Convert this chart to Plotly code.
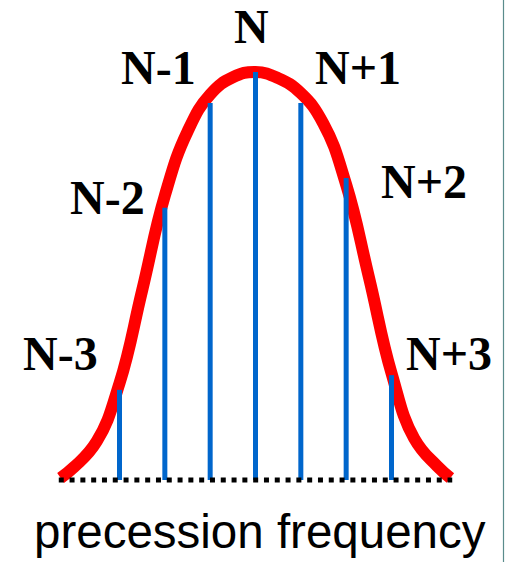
import plotly.graph_objects as go

# ---- data ----
# channel offsets relative to N
channels = [-3, -2, -1, 0, 1, 2, 3]
channel_labels = ["N-3", "N-2", "N-1", "N", "N+1", "N+2", "N+3"]
# relative intensity of each line (peak = 1)
line_heights = [0.221, 0.667, 0.924, 1.0, 0.924, 0.740, 0.257]

# envelope curve (x in channel units, y relative intensity)
curve_x = [-4.3, -4.0, -3.5, -3.0, -2.5, -2.0, -1.5, -1.0, -0.5, 0.0,
           0.5, 1.0, 1.5, 2.0, 2.5, 3.0, 3.5, 4.0, 4.3]
curve_y = [0.005, 0.032, 0.095, 0.237, 0.465, 0.697, 0.854, 0.945, 0.987, 1.0,
           0.985, 0.948, 0.873, 0.724, 0.498, 0.262, 0.102, 0.035, 0.005]

axis_title = "precession frequency"

# ---- layout helpers (pixel geometry of the 505x562 canvas) ----
W, H = 505, 562
label_pos_px = [(60, 353), (107.5, 197), (158, 67), (251, 26.5),
                (358, 67), (424, 182), (449, 353)]
title_pos_px = (260, 531)

fig = go.Figure()

# red envelope
fig.add_trace(go.Scatter(x=curve_x, y=curve_y, mode="lines",
                         line=dict(color="#ff0000", width=12, shape="spline", smoothing=1.3),
                         hoverinfo="skip"))

# blue spectral lines
lx, ly = [], []
for c, h in zip(channels, line_heights):
    lx += [c, c, None]
    ly += [0, h, None]
fig.add_trace(go.Scatter(x=lx, y=ly, mode="lines",
                         line=dict(color="#0066cc", width=5),
                         hoverinfo="skip"))

# dotted baseline
fig.add_trace(go.Scatter(x=[min(curve_x) - 0.04, max(curve_x) + 0.04], y=[0, 0], mode="lines",
                         line=dict(color="black", width=5, dash="5px,5.8px"),
                         hoverinfo="skip"))

annotations = []
for txt, (px, py) in zip(channel_labels, label_pos_px):
    annotations.append(dict(text="<b>" + txt + "</b>", xref="paper", yref="paper",
                            x=px / W, y=1 - py / H, xanchor="center", yanchor="middle",
                            showarrow=False,
                            font=dict(family="Liberation Serif", size=48, color="black")))

annotations.append(dict(text=axis_title, xref="paper", yref="paper",
                        x=title_pos_px[0] / W, y=1 - title_pos_px[1] / H,
                        xanchor="center", yanchor="middle", showarrow=False,
                        font=dict(family="Liberation Sans", size=47.5, color="black")))

# pixel -> data mapping: x centre 255.5 px, 45.33 px per channel; baseline 480 px, 408 px per unit
x_c, x_s = 255.5, 45.33
y_b, y_s = 480.0, 408.0
fig.update_layout(
    width=W, height=H,
    margin=dict(l=0, r=0, t=0, b=0),
    paper_bgcolor="white", plot_bgcolor="white",
    showlegend=False,
    xaxis=dict(range=[(0 - x_c) / x_s, (W - x_c) / x_s], visible=False, fixedrange=True),
    yaxis=dict(range=[(y_b - H) / y_s, y_b / y_s], visible=False, fixedrange=True),
    annotations=annotations,
    shapes=[dict(type="line", xref="paper", yref="paper", x0=503.5 / W, x1=503.5 / W,
                 y0=0, y1=1, line=dict(color="#5a8c8c", width=1.2))],
)

fig.write_html("out.html", config={"displayModeBar": False},
               post_script="document.body.style.margin='0';document.body.style.padding='0';"
                           "document.body.style.overflow='hidden';")
